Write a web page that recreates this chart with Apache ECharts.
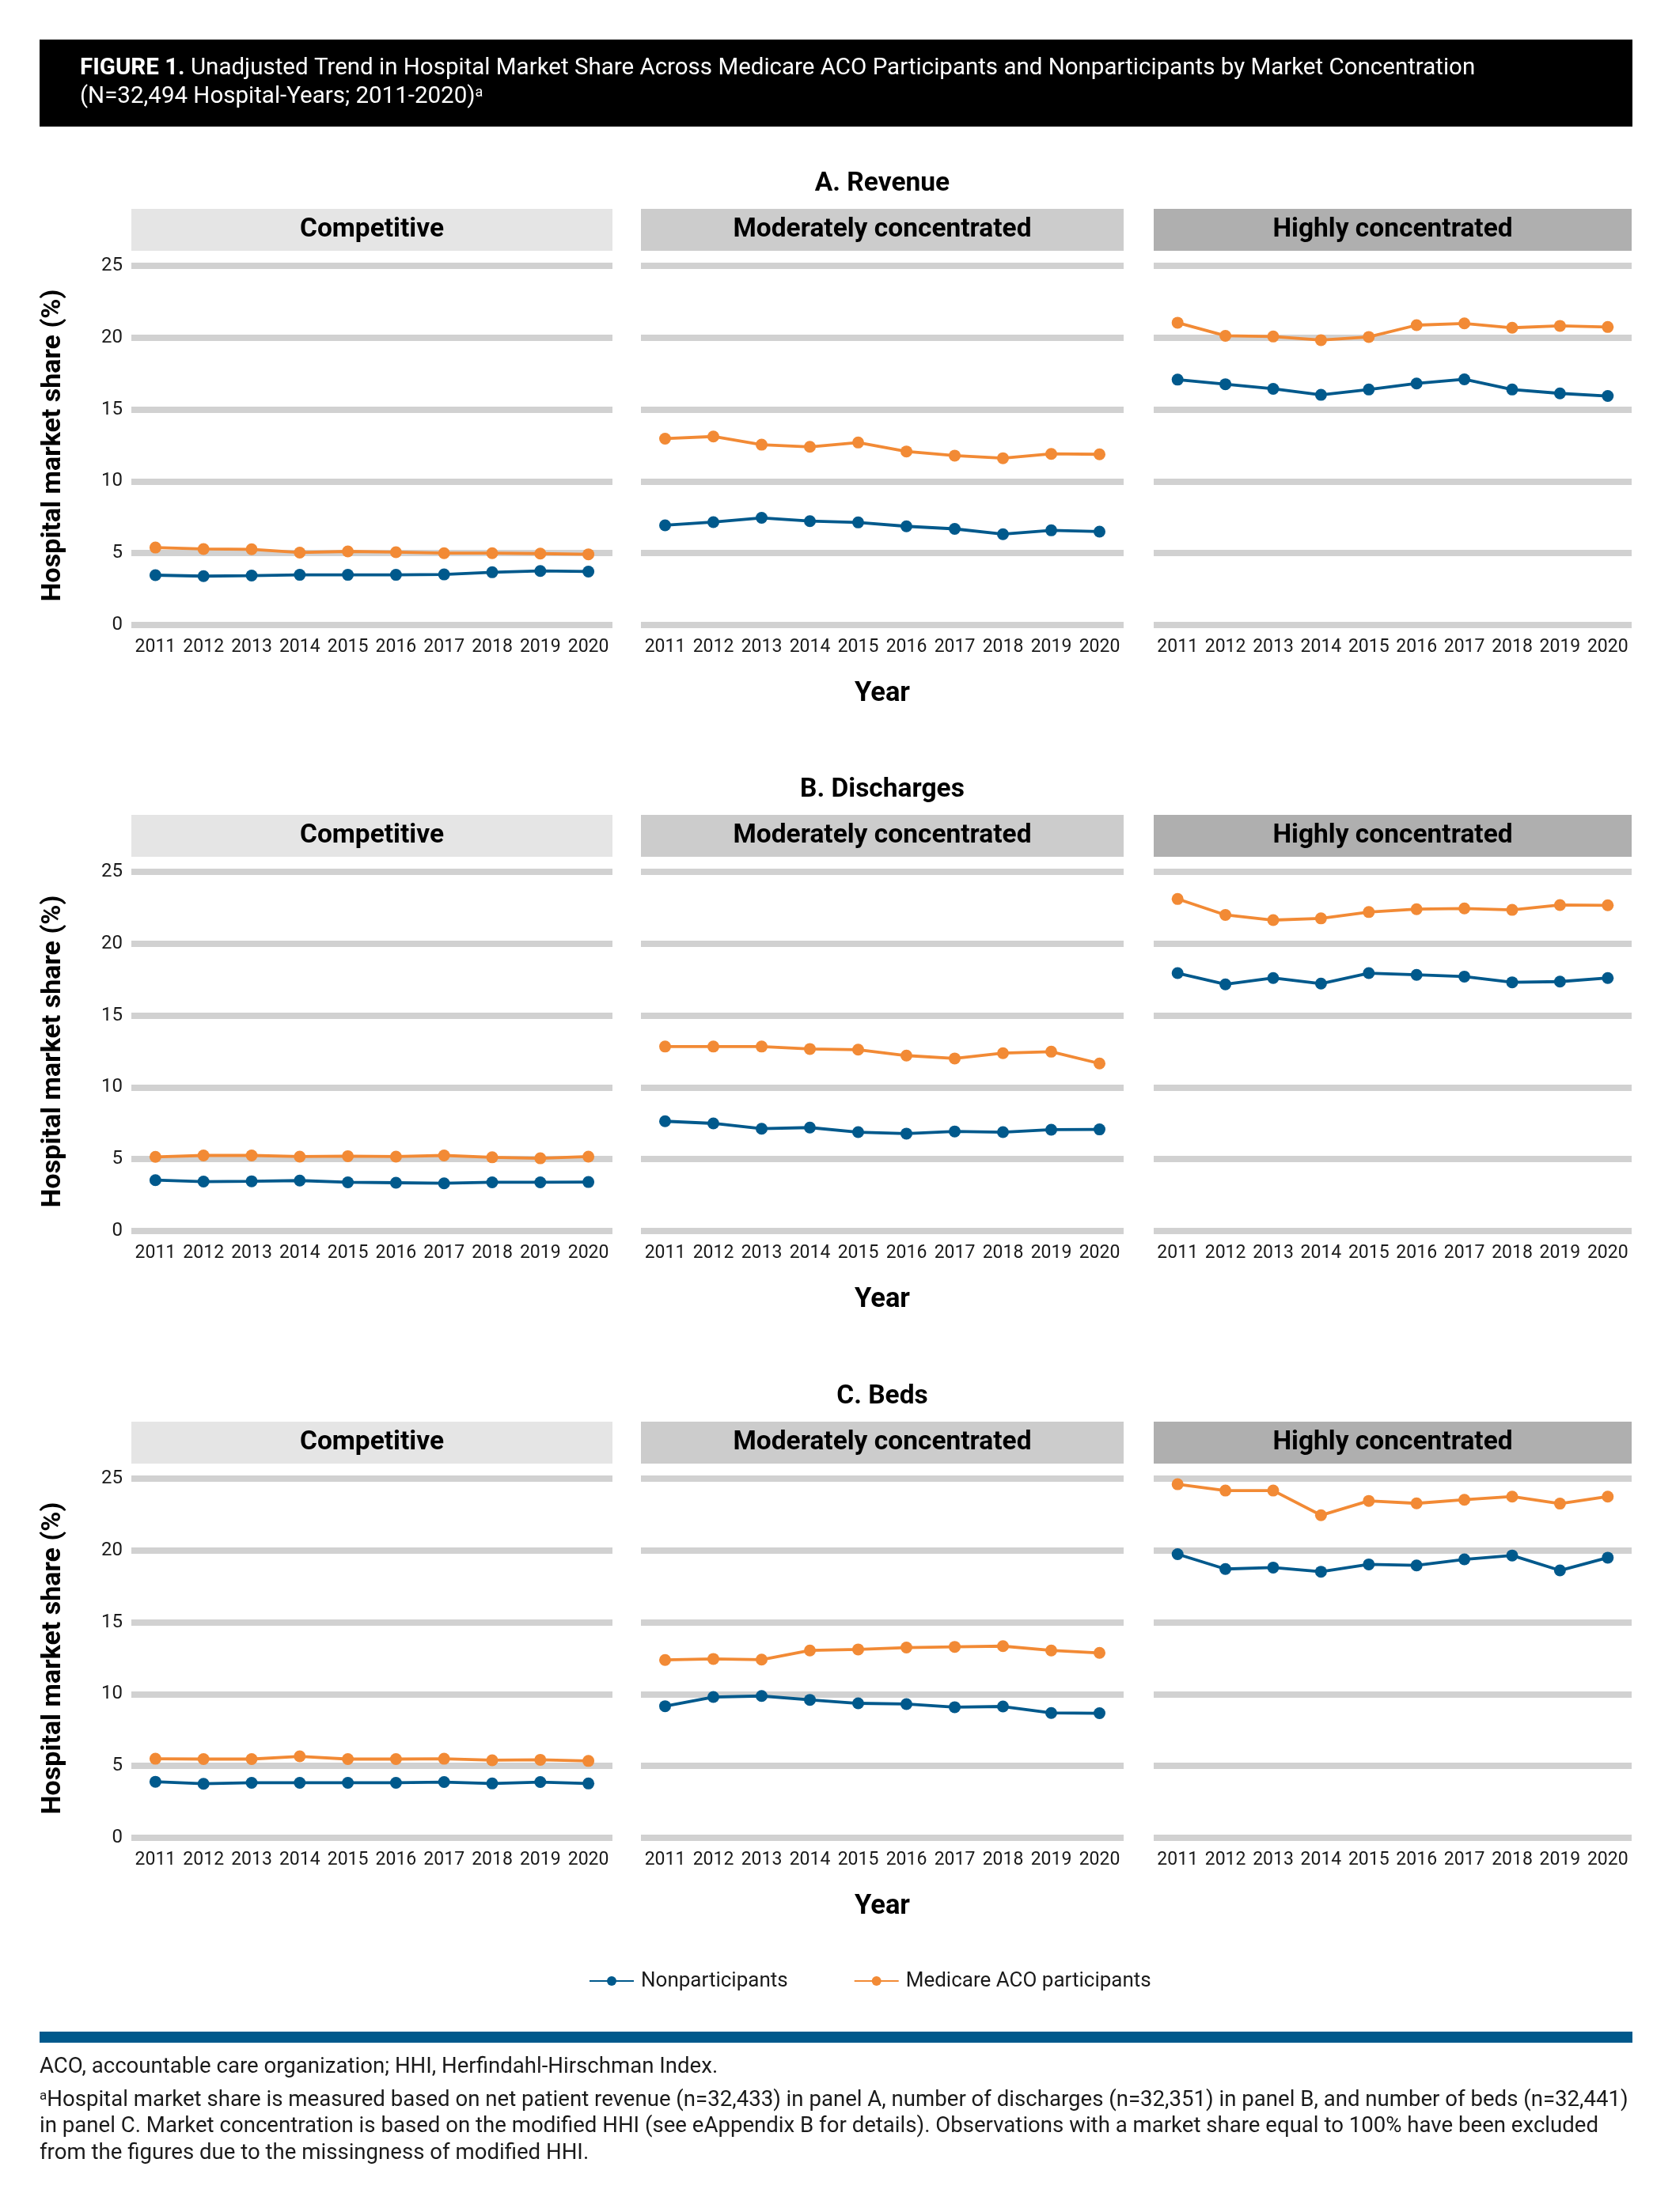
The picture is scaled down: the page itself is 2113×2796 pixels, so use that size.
<!DOCTYPE html>
<html>
<head>
<meta charset="utf-8">
<script src="https://cdn.jsdelivr.net/npm/echarts@6/dist/echarts.min.js"></script>
<style>
html,body{margin:0;padding:0;background:#fff;}
#chart{width:2113px;height:2796px;}
</style>
</head>
<body>
<div id="chart"></div>
<script>
// ---------- DATA ----------
const years = ['2011','2012','2013','2014','2015','2016','2017','2018','2019','2020'];
const concentrations = ['Competitive','Moderately concentrated','Highly concentrated'];
const panelTitles = ['A. Revenue','B. Discharges','C. Beds'];
const seriesNames = ['Nonparticipants','Medicare ACO participants'];
const yAxisTitle = 'Hospital market share (%)';
const xAxisTitle = 'Year';

// A. Revenue
const revCompNon = [3.47,3.40,3.44,3.49,3.49,3.49,3.52,3.67,3.76,3.72];
const revCompAco = [5.39,5.29,5.27,5.04,5.12,5.07,5.00,5.00,4.97,4.92];
const revModNon  = [6.94,7.16,7.46,7.23,7.14,6.87,6.69,6.32,6.59,6.50];
const revModAco  = [12.97,13.12,12.55,12.40,12.70,12.08,11.79,11.61,11.91,11.88];
const revHighNon = [17.08,16.76,16.44,16.02,16.39,16.81,17.10,16.39,16.12,15.94];
const revHighAco = [21.04,20.13,20.08,19.83,20.05,20.87,20.99,20.69,20.82,20.74];
// B. Discharges
const disCompNon = [3.54,3.44,3.46,3.51,3.39,3.36,3.32,3.39,3.39,3.41];
const disCompAco = [5.16,5.26,5.26,5.18,5.21,5.18,5.26,5.13,5.06,5.18];
const disModNon  = [7.64,7.49,7.12,7.20,6.88,6.78,6.93,6.88,7.05,7.07];
const disModAco  = [12.84,12.84,12.84,12.67,12.62,12.21,12.01,12.38,12.48,11.66];
const disHighNon = [17.95,17.17,17.61,17.22,17.95,17.83,17.71,17.31,17.36,17.61];
const disHighAco = [23.11,22.00,21.64,21.76,22.20,22.40,22.45,22.35,22.69,22.67];
// C. Beds
const bedCompNon = [3.90,3.76,3.83,3.83,3.83,3.83,3.88,3.78,3.88,3.78];
const bedCompAco = [5.50,5.48,5.48,5.67,5.48,5.48,5.50,5.40,5.43,5.35];
const bedModNon  = [9.16,9.80,9.87,9.60,9.36,9.31,9.09,9.14,8.69,8.67];
const bedModAco  = [12.38,12.45,12.40,13.04,13.11,13.24,13.29,13.34,13.04,12.87];
const bedHighNon = [19.74,18.71,18.81,18.52,19.03,18.96,19.38,19.65,18.61,19.50];
const bedHighAco = [24.61,24.17,24.17,22.45,23.45,23.28,23.53,23.75,23.26,23.75];

const panelData = [
  [[revCompNon, revCompAco], [revModNon, revModAco], [revHighNon, revHighAco]],
  [[disCompNon, disCompAco], [disModNon, disModAco], [disHighNon, disHighAco]],
  [[bedCompNon, bedCompAco], [bedModNon, bedModAco], [bedHighNon, bedHighAco]]
];

// ---------- STYLE / LAYOUT ----------
const FONT = 'Roboto';
const colors = ['#00598C', '#F28A35'];
const stripColors = ['#E5E5E5', '#CCCCCC', '#AFAFAF'];
const colLeft = [166, 810, 1458];
const colWidth = [608, 610, 604];
const panelTop = [336, 1102, 1869];
const panelHeight = 454;

const grids = [], xAxes = [], yAxes = [], series = [], graphics = [];

// title box
graphics.push({type:'rect', shape:{x:50, y:50, width:2013, height:110}, style:{fill:'#000'}});
graphics.push({type:'text', x:101, y:87, style:{
  text:'{b|FIGURE 1.} {r|Unadjusted Trend in Hospital Market Share Across Medicare ACO Participants and Nonparticipants by Market Concentration}',
  rich:{b:{fontFamily:FONT, fontWeight:'bold', fontSize:29.5, fill:'#fff', color:'#fff'}, r:{fontFamily:FONT, fontSize:29.5, fill:'#fff', color:'#fff'}},
  fill:'#fff', fontFamily:FONT, fontSize:29.5, verticalAlign:'middle', textVerticalAlign:'middle'}});
graphics.push({type:'text', x:101, y:123, style:{
  text:'{r|(N=32,494 Hospital-Years; 2011-2020)}{s|a}',
  rich:{r:{fontFamily:FONT, fontSize:29.5, fill:'#fff', color:'#fff'}, s:{fontFamily:FONT, fontSize:18, fill:'#fff', color:'#fff', verticalAlign:'top'}},
  fill:'#fff', fontFamily:FONT, fontSize:29.5, verticalAlign:'middle', textVerticalAlign:'middle'}});

panelTitles.forEach((pt, p) => {
  const top = panelTop[p];
  graphics.push({type:'text', x:colLeft[1] + colWidth[1]/2, y: top - 103, style:{
    text: pt, fontFamily:FONT, fontWeight:'bold', fontSize:33.5, fill:'#000',
    align:'center', textAlign:'center', verticalAlign:'middle', textVerticalAlign:'middle'}});
  concentrations.forEach((c, k) => {
    const idx = p*3 + k;
    graphics.push({type:'rect', shape:{x:colLeft[k], y: top - 72, width: colWidth[k], height: 53}, style:{fill: stripColors[k]}});
    graphics.push({type:'text', x: colLeft[k] + colWidth[k]/2, y: top - 45, style:{
      text: c, fontFamily:FONT, fontWeight:'bold', fontSize:33.5, fill:'#000',
      align:'center', textAlign:'center', verticalAlign:'middle', textVerticalAlign:'middle'}});
    grids.push({left: colLeft[k], width: colWidth[k], top: top, height: panelHeight, containLabel:false});
    xAxes.push({
      type:'category', gridIndex: idx, data: years, boundaryGap: true,
      axisLine:{show:false}, axisTick:{show:false}, splitLine:{show:false},
      axisLabel:{interval:0, fontFamily:FONT, fontSize:23, color:'#1a1a1a', margin:17},
      name: k === 1 ? xAxisTitle : '', nameLocation:'middle', nameGap: 70,
      nameTextStyle:{fontFamily:FONT, fontWeight:'bold', fontSize:34.5, color:'#000'}
    });
    yAxes.push({
      type:'value', gridIndex: idx, min:0, max:25, interval:5,
      axisLine:{show:false}, axisTick:{show:false},
      splitLine:{show:true, lineStyle:{color:'#D1D1D1', width:8}},
      axisLabel:{show: k === 0, fontFamily:FONT, fontSize:24, color:'#1a1a1a', margin:11},
      name: k === 0 ? yAxisTitle : '', nameLocation:'middle', nameRotate:90, nameGap: 82,
      nameTextStyle:{fontFamily:FONT, fontWeight:'bold', fontSize:34, color:'#000'}
    });
    panelData[p][k].forEach((arr, s) => {
      series.push({
        type:'line', name: seriesNames[s], xAxisIndex: idx, yAxisIndex: idx,
        data: arr, symbol:'circle', symbolSize:15, showAllSymbol:true,
        lineStyle:{width:3.8, color: colors[s]}, itemStyle:{color: colors[s]},
        animation:false, z: 3 + s
      });
    });
  });
});

// bottom bar + footnotes
graphics.push({type:'rect', shape:{x:50, y:2568, width:2013, height:14}, style:{fill:'#00598C'}});
const footLines = [
  {y:2613, t:'{r|ACO, accountable care organization; HHI, Herfindahl-Hirschman Index.}'},
  {y:2655, t:'{s|a}{r|Hospital market share is measured based on net patient revenue (n=32,433) in panel A, number of discharges (n=32,351) in panel B, and number of beds (n=32,441)}'},
  {y:2688, t:'{r|in panel C. Market concentration is based on the modified HHI (see eAppendix B for details). Observations with a market share equal to 100% have been excluded}'},
  {y:2722, t:'{r|from the figures due to the missingness of modified HHI.}'}
];
footLines.forEach(f => {
  graphics.push({type:'text', x:50, y:f.y, style:{
    text: f.t,
    rich:{r:{fontFamily:FONT, fontSize:27.6, fill:'#1a1a1a', color:'#1a1a1a'}, s:{fontFamily:FONT, fontSize:17, fill:'#1a1a1a', color:'#1a1a1a', verticalAlign:'top'}},
    fontFamily:FONT, fontSize:27.6, fill:'#1a1a1a', verticalAlign:'middle', textVerticalAlign:'middle'}});
});

const chart = echarts.init(document.getElementById('chart'), null, {renderer:'canvas'});
chart.setOption({
  backgroundColor:'#fff',
  animation:false,
  grid: grids, xAxis: xAxes, yAxis: yAxes, series: series,
  legend:{
    data: seriesNames, left: 739, top: 2486, itemWidth: 56, itemHeight: 15, itemGap: 83,
    textStyle:{fontFamily:FONT, fontSize:26, color:'#1a1a1a', padding:[0,0,0,4]}
  },
  graphic: graphics
});
</script>
</body>
</html>
